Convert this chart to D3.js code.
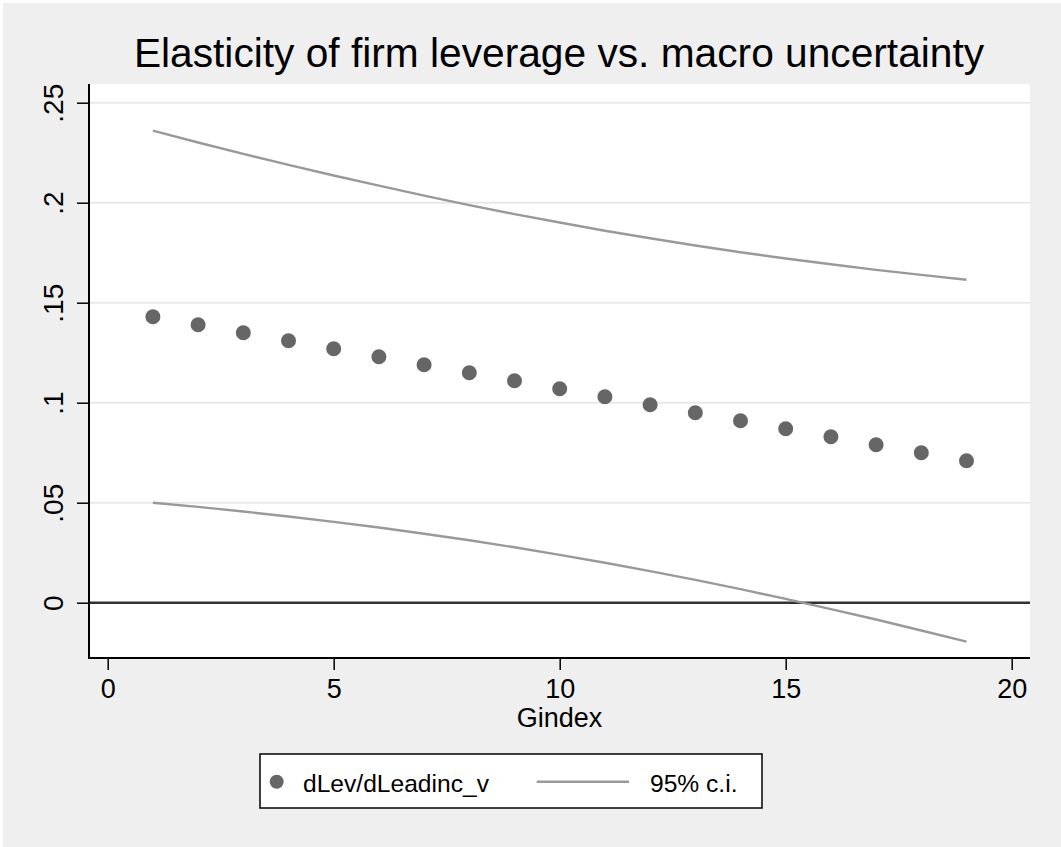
<!DOCTYPE html>
<html>
<head>
<meta charset="utf-8">
<script src="https://cdn.jsdelivr.net/npm/d3@7"></script>
<style>
  body { margin: 0; background: #fff; }
  svg { display: block; font-family: "Liberation Sans", Arial, sans-serif; }
</style>
</head>
<body>
<svg id="chart" width="1061" height="847"></svg>
<script>
// values
var gindex = [1, 2, 3, 4, 5, 6, 7, 8, 9, 10, 11, 12, 13, 14, 15, 16, 17, 18, 19];
var elast  = [0.143, 0.139, 0.135, 0.131, 0.127, 0.123, 0.119, 0.115, 0.111, 0.107,
              0.103, 0.099, 0.095, 0.091, 0.087, 0.083, 0.079, 0.075, 0.071];
var ciHigh = [0.2360, 0.2301, 0.2244, 0.2189, 0.2136, 0.2085, 0.2035, 0.1988, 0.1943, 0.1901,
              0.1860, 0.1822, 0.1786, 0.1752, 0.1721, 0.1692, 0.1664, 0.1639, 0.1615];
var ciLow  = [0.0500, 0.0479, 0.0456, 0.0431, 0.0404, 0.0376, 0.0345, 0.0312, 0.0277, 0.0239,
              0.0200, 0.0158, 0.0114, 0.0068, 0.0019, -0.0032, -0.0084, -0.0139, -0.0195];
var xTicks = [0, 5, 10, 15, 20];
var yTicks = [0, 0.05, 0.1, 0.15, 0.2, 0.25];
var yLabels = ["0", ".05", ".1", ".15", ".2", ".25"];

var svg = d3.select("#chart");
var W = 1061, H = 847;
var plot = {left: 89, right: 1030, top: 84, bottom: 658};

var x = d3.scaleLinear().domain([0, 20]).range([107.7, 1011.7]);
var y = d3.scaleLinear().domain([0, 0.25]).range([602.7, 102.7]);

// backgrounds
svg.append("rect").attr("x", 0).attr("y", 0).attr("width", W).attr("height", H).attr("fill", "#fff");
svg.append("rect").attr("x", 3).attr("y", 3).attr("width", W - 3).attr("height", H - 3).attr("fill", "#efefef");
svg.append("rect").attr("x", plot.left).attr("y", plot.top)
  .attr("width", plot.right - plot.left).attr("height", plot.bottom - plot.top).attr("fill", "#fff");

// grid
svg.append("g").selectAll("line").data(yTicks.filter(function(d) { return d !== 0; })).enter()
  .append("line")
  .attr("x1", plot.left).attr("x2", plot.right)
  .attr("y1", function(d) { return y(d); }).attr("y2", function(d) { return y(d); })
  .attr("stroke", "#e8e8e8").attr("stroke-width", 2);

// zero line
svg.append("line")
  .attr("x1", plot.left).attr("x2", plot.right)
  .attr("y1", y(0)).attr("y2", y(0))
  .attr("stroke", "#333").attr("stroke-width", 2.5);

// CI lines
var line = d3.line().x(function(d) { return x(d[0]); }).y(function(d) { return y(d[1]); });
[ciHigh, ciLow].forEach(function(ci) {
  svg.append("path")
    .datum(gindex.map(function(g, i) { return [g, ci[i]]; }))
    .attr("d", line)
    .attr("fill", "none").attr("stroke", "#999").attr("stroke-width", 2.4);
});

// points
svg.append("g").selectAll("circle").data(gindex).enter()
  .append("circle")
  .attr("cx", function(d) { return x(d); })
  .attr("cy", function(d, i) { return y(elast[i]); })
  .attr("r", 7.5)
  .attr("fill", "#666");

// axes
var yAxis = d3.axisLeft(y).tickValues(yTicks).tickSize(12)
  .tickFormat(function(d, i) { return yLabels[i]; });
var gy = svg.append("g").attr("transform", "translate(" + plot.left + ",0)").call(yAxis);
gy.select(".domain").remove();
gy.selectAll(".tick line").attr("stroke", "#000").attr("stroke-width", 1.5);
gy.selectAll(".tick text")
  .attr("transform", "rotate(-90)")
  .attr("x", 0).attr("y", -26.3).attr("dy", 0)
  .attr("text-anchor", "middle")
  .attr("font-size", 28).attr("font-family", "Liberation Sans, Arial, sans-serif")
  .attr("fill", "#000");

var xAxis = d3.axisBottom(x).tickValues(xTicks).tickSize(12).tickPadding(9);
var gx = svg.append("g").attr("transform", "translate(0," + plot.bottom + ")").call(xAxis);
gx.select(".domain").remove();
gx.selectAll(".tick line").attr("stroke", "#000").attr("stroke-width", 1.5);
gx.selectAll(".tick text")
  .attr("font-size", 27).attr("font-family", "Liberation Sans, Arial, sans-serif")
  .attr("fill", "#000");

// axis lines
svg.append("line").attr("x1", plot.left).attr("x2", plot.left)
  .attr("y1", plot.top).attr("y2", plot.bottom + 1)
  .attr("stroke", "#000").attr("stroke-width", 2);
svg.append("line").attr("x1", plot.left - 1).attr("x2", plot.right)
  .attr("y1", plot.bottom).attr("y2", plot.bottom)
  .attr("stroke", "#000").attr("stroke-width", 2);

// titles
svg.append("text").attr("x", 559).attr("y", 67).attr("text-anchor", "middle")
  .attr("font-size", 40.7).attr("fill", "#000")
  .text("Elasticity of firm leverage vs. macro uncertainty");
svg.append("text").attr("x", 559.5).attr("y", 727).attr("text-anchor", "middle")
  .attr("font-size", 27).attr("fill", "#000").text("Gindex");

// legend
var lg = svg.append("g");
lg.append("rect").attr("x", 260).attr("y", 754).attr("width", 502).attr("height", 54)
  .attr("fill", "#fff").attr("stroke", "#000").attr("stroke-width", 1.5);
lg.append("circle").attr("cx", 276.7).attr("cy", 781.7).attr("r", 7).attr("fill", "#666");
lg.append("text").attr("x", 303).attr("y", 791.5).attr("font-size", 24.6).attr("fill", "#000")
  .text("dLev/dLeadinc_v");
lg.append("line").attr("x1", 536.7).attr("x2", 629).attr("y1", 781.7).attr("y2", 781.7)
  .attr("stroke", "#999").attr("stroke-width", 2.4);
lg.append("text").attr("x", 650).attr("y", 791.5).attr("font-size", 24.6).attr("fill", "#000")
  .text("95% c.i.");
</script>
</body>
</html>
